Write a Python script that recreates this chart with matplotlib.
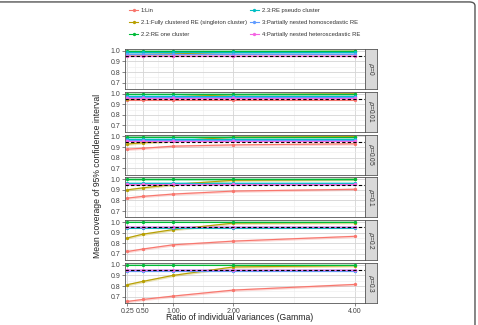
import numpy as np
import matplotlib
matplotlib.use('Agg')
import matplotlib.pyplot as plt
from matplotlib.lines import Line2D
from matplotlib.patches import FancyBboxPatch

plt.rcParams['font.family'] = ['Liberation Sans', 'DejaVu Sans']

gamma = [0.25, 0.5, 1.0, 2.0, 4.0]
rho_labels = [r'$\rho$=0', r'$\rho$=0.01', r'$\rho$=0.05', r'$\rho$=0.1', r'$\rho$=0.2', r'$\rho$=0.3']
methods = ['1:Lin', '2.1:Fully clustered RE (singleton cluster)', '2.2:RE one cluster',
           '2.3:RE pseudo cluster', '3:Partially nested homoscedastic RE',
           '4:Partially nested heteroscedastic RE']
colors = ['#F8766D', '#B79F00', '#00BA38', '#00BFC4', '#619CFF', '#F564E3']

# coverage per panel (rho), per method, at each gamma
lin = [[0.955, 0.955, 0.955, 0.955, 0.955],
       [0.940, 0.940, 0.940, 0.940, 0.940],
       [0.880, 0.888, 0.908, 0.920, 0.930],
       [0.822, 0.838, 0.860, 0.888, 0.905],
       [0.722, 0.745, 0.785, 0.820, 0.865],
       [0.655, 0.673, 0.705, 0.762, 0.815]]
fc_re = [[0.965, 0.965, 0.970, 0.990, 0.995],
         [0.950, 0.955, 0.970, 0.990, 0.998],
         [0.928, 0.940, 0.958, 0.992, 0.998],
         [0.900, 0.918, 0.950, 0.990, 0.998],
         [0.850, 0.885, 0.928, 0.990, 0.995],
         [0.813, 0.843, 0.900, 0.980, 0.992]]
one_cl = [[0.998, 0.998, 0.998, 0.998, 0.998],
          [0.998, 0.998, 0.998, 0.998, 0.998],
          [0.998, 0.998, 0.998, 0.998, 0.998],
          [0.998, 0.998, 0.998, 0.998, 0.998],
          [0.998, 0.998, 0.998, 0.998, 0.998],
          [0.998, 0.998, 0.998, 0.998, 0.998]]
pseudo = [[0.985, 0.985, 0.985, 0.985, 0.985],
          [0.982, 0.982, 0.982, 0.982, 0.982],
          [0.975, 0.975, 0.975, 0.975, 0.975],
          [0.962, 0.962, 0.962, 0.962, 0.962],
          [0.945, 0.945, 0.945, 0.945, 0.945],
          [0.940, 0.940, 0.940, 0.940, 0.940]]
pn_homo = [[0.972, 0.972, 0.972, 0.972, 0.972],
           [0.970, 0.970, 0.970, 0.970, 0.970],
           [0.962, 0.962, 0.962, 0.962, 0.962],
           [0.952, 0.952, 0.952, 0.952, 0.952],
           [0.950, 0.950, 0.950, 0.950, 0.950],
           [0.946, 0.946, 0.946, 0.946, 0.946]]
pn_hete = [[0.955, 0.955, 0.955, 0.955, 0.955],
           [0.955, 0.955, 0.955, 0.955, 0.955],
           [0.958, 0.958, 0.958, 0.958, 0.958],
           [0.952, 0.952, 0.952, 0.952, 0.952],
           [0.952, 0.952, 0.952, 0.952, 0.952],
           [0.950, 0.950, 0.950, 0.950, 0.950]]
series = [lin, fc_re, one_cl, pseudo, pn_homo, pn_hete]

W, H = 478, 325
fig = plt.figure(figsize=(W / 100, H / 100), dpi=100)

# outer frame
frame = FancyBboxPatch((-0.05, -0.05), 0.9937 + 0.05, 0.994 + 0.05,
                       boxstyle='round,pad=0,rounding_size=0.012',
                       transform=fig.transFigure, fill=False,
                       edgecolor='#555555', lw=1.0, clip_on=False)
fig.patches.append(frame)

left, right = 125, 365
tops = [49, 91.8, 134.6, 177.4, 220.2, 263]
ph = 40
for i, top in enumerate(tops):
    ax = fig.add_axes([left / W, 1 - (top + ph) / H, (right - left) / W, ph / H])
    ax.set_xlim(0.21, 4.17)
    ax.set_ylim(0.64, 1.017)
    ax.set_xticks([0.25, 0.5, 1.0, 2.0, 4.0])
    ax.set_xticks([0.375, 0.75, 1.5, 3.0], minor=True)
    ax.set_yticks([0.7, 0.8, 0.9, 1.0])
    ax.set_yticks([0.75, 0.85, 0.95], minor=True)
    ax.grid(which='major', color='#D4D4D4', lw=0.6)
    ax.grid(which='minor', color='#EDEDED', lw=0.4)
    ax.set_axisbelow(True)
    ax.tick_params(which='both', length=2, width=0.5, color='#555555', labelsize=5,
                   labelcolor='#444444', pad=1.5)
    ax.tick_params(which='minor', length=0)
    ax.set_yticklabels(['0.7', '0.8', '0.9', '1.0'])
    if i < 5:
        ax.set_xticklabels([])
        ax.tick_params(axis='x', length=0)
    else:
        ax.set_xticklabels(['0.25', '0.50', '1.00', '2.00', '4.00'])
    for sp in ax.spines.values():
        sp.set_color('#555555')
        sp.set_linewidth(0.6)

    for s, col in zip(series, colors):
        y = np.array(s[i])
        ax.fill_between(gamma, y - 0.012, np.minimum(y + 0.012, 1.012), color=col,
                        alpha=0.3, lw=0)
        ax.plot(gamma, y, color=col, lw=0.8, marker='o', ms=2.4, mew=0)
    ax.axhline(0.95, color='black', lw=0.8, ls=(0, (3, 2)))

    # facet strip
    sax = fig.add_axes([right / W, 1 - (top + ph) / H, 12 / W, ph / H])
    sax.set_xticks([])
    sax.set_yticks([])
    sax.set_facecolor('#D9D9D9')
    for sp in sax.spines.values():
        sp.set_color('#555555')
        sp.set_linewidth(0.6)
    sax.text(0.5, 0.5, rho_labels[i], rotation=-90, ha='center', va='center',
             fontsize=4.8, color='#333333', transform=sax.transAxes)

fig.text(98 / W, 1 - 176 / H, 'Mean coverage of 95% confidence interval', rotation=90,
         ha='center', va='center', fontsize=6.2, color='#222222')
fig.text(240 / W, 1 - 318 / H, 'Ratio of individual variances (Gamma)',
         ha='center', va='center', fontsize=6.2, color='#222222')

handles = [Line2D([], [], color=c, lw=0.8, marker='o', ms=2.4, mew=0) for c in colors]
leg = fig.legend(handles, methods, ncol=2,
                 loc='upper left', bbox_to_anchor=(124 / W, 1 - 3 / H), frameon=False,
                 fontsize=4.2, handlelength=1.5, handletextpad=0.5, columnspacing=0.5,
                 labelspacing=1.15)
for t in leg.get_texts():
    t.set_color('#333333')

fig.savefig('out.png', dpi=100)
